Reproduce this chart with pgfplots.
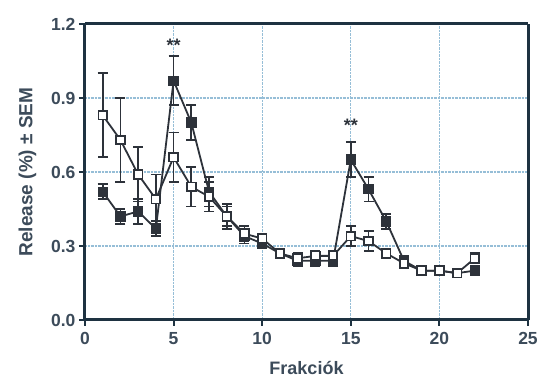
\documentclass[border=0pt]{standalone}
\usepackage{pgfplots}
\pgfplotsset{compat=1.18}
\usepackage{fontspec}
\setmainfont{Liberation Sans}
\definecolor{axc}{RGB}{30,50,65}
\definecolor{gridc}{RGB}{150,190,215}
\definecolor{datc}{RGB}{45,50,58}
\definecolor{txtc}{RGB}{60,75,90}
\begin{document}
\begin{tikzpicture}
\begin{axis}[
  at={(0,0)}, anchor=south west,
  scale only axis, width=443pt, height=296pt,
  xmin=0, xmax=25, ymin=0, ymax=1.2,
  xtick={0,5,10,15,20,25}, ytick={0,0.3,0.6,0.9,1.2},
  yticklabel style={/pgf/number format/.cd, fixed, fixed zerofill, precision=1},
  /pgf/number format/assume math mode=true,
  tick align=outside, xtick pos=bottom, ytick pos=left,
  major tick length=6pt,
  separate axis lines,
  every outer x axis line/.append style={line width=3pt, color=axc},
  every outer y axis line/.append style={line width=3pt, color=axc},
  major tick style={line width=2pt, color=axc},
  grid=major, major grid style={densely dotted, color=gridc, line width=1.2pt},
  ticklabel style={font=\fontsize{17.5}{18}\selectfont\bfseries, color=txtc},
  xticklabel style={yshift=-3pt},
  xlabel={Frakciók}, ylabel={Release (\%) ± SEM},
  xlabel style={font=\fontsize{18}{20}\selectfont\bfseries, color=txtc, yshift=-10pt},
  ylabel style={font=\fontsize{19}{20}\selectfont\bfseries, color=txtc, yshift=8pt},
  error bars/y dir=both, error bars/y explicit,
  error bars/error bar style={line width=1.8pt, color=datc},
  error bars/error mark options={rotate=90, mark size=5pt, line width=1.8pt, color=datc},
]
\addplot[color=datc, line width=1.8pt, mark=square*, mark size=4.3pt, mark options={fill=datc, draw=datc}]
 coordinates {
 (1,0.52) +- (0,0.03)
 (2,0.42) +- (0,0.03)
 (3,0.44) +- (0,0.05)
 (4,0.37) +- (0,0.03)
 (5,0.97) +- (0,0.10)
 (6,0.80) +- (0,0.07)
 (7,0.52) +- (0,0.06)
 (8,0.42) +- (0,0.05)
 (9,0.34) +- (0,0.03)
 (10,0.31) +- (0,0.02)
 (11,0.27) +- (0,0.02)
 (12,0.24) +- (0,0.02)
 (13,0.24) +- (0,0.02)
 (14,0.24) +- (0,0.02)
 (15,0.65) +- (0,0.07)
 (16,0.53) +- (0,0.05)
 (17,0.40) +- (0,0.03)
 (18,0.24) +- (0,0.02)
 (19,0.20) +- (0,0.01)
 (20,0.20) +- (0,0.01)
 (21,0.19) +- (0,0.01)
 (22,0.20) +- (0,0.01)
 };
\addplot[color=datc, line width=1.8pt, mark=square*, mark size=4.3pt, mark options={fill=white, draw=datc}]
 coordinates {
 (1,0.83) +- (0,0.17)
 (2,0.73) +- (0,0.17)
 (3,0.59) +- (0,0.11)
 (4,0.49) +- (0,0.10)
 (5,0.66) +- (0,0.10)
 (6,0.54) +- (0,0.08)
 (7,0.50) +- (0,0.06)
 (8,0.42) +- (0,0.04)
 (9,0.35) +- (0,0.03)
 (10,0.33) +- (0,0.02)
 (11,0.27) +- (0,0.02)
 (12,0.25) +- (0,0.02)
 (13,0.26) +- (0,0.02)
 (14,0.26) +- (0,0.02)
 (15,0.34) +- (0,0.04)
 (16,0.32) +- (0,0.04)
 (17,0.27) +- (0,0.02)
 (18,0.23) +- (0,0.02)
 (19,0.20) +- (0,0.01)
 (20,0.20) +- (0,0.01)
 (21,0.19) +- (0,0.01)
 (22,0.25) +- (0,0.02)
 };
\node[font=\fontsize{18}{18}\selectfont\bfseries, color=datc] at (axis cs:5,1.115) {**};
\node[font=\fontsize{18}{18}\selectfont\bfseries, color=datc] at (axis cs:15,0.79) {**};
\end{axis}
\pgfresetboundingbox
\path (-85pt,-67pt) rectangle (456pt,320pt);
\end{tikzpicture}
\end{document}
